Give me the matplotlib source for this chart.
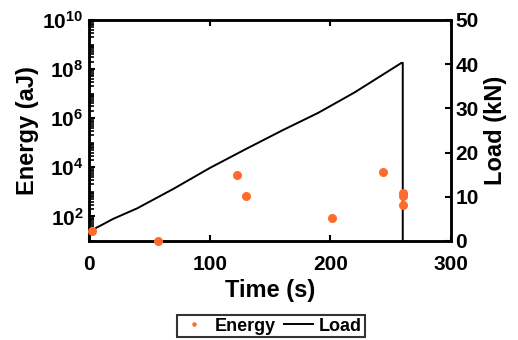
import numpy as np
import matplotlib.pyplot as plt
from matplotlib.ticker import LogLocator, FixedLocator, NullFormatter

plt.rcParams['font.family'] = ['Liberation Sans', 'DejaVu Sans']
plt.rcParams['font.weight'] = 'bold'
plt.rcParams['mathtext.fontset'] = 'custom'
plt.rcParams['mathtext.rm'] = 'Liberation Sans:bold'
plt.rcParams['mathtext.bf'] = 'Liberation Sans:bold'
plt.rcParams['mathtext.default'] = 'bf'

# energy events
energy_t = [2.5, 57, 123, 130, 201, 244, 260, 260, 260]
energy_val = [25, 10, 5000, 660, 90, 6300, 870, 660, 280]

# load curve
load_t = [0, 1, 3, 6, 9, 20, 40, 70, 100, 130, 160, 190, 220, 259, 260, 260]
load_val = [0, 1.2, 2.2, 3.0, 3.4, 5.0, 7.4, 11.8, 16.5, 20.8, 25.0, 29.0, 33.6, 40.3, 40.3, 0]

orange = '#ff6b2b'

fig = plt.figure(figsize=(5.18, 3.40), dpi=100)
ax1 = fig.add_axes([0.1718, 0.2912, 0.6989, 0.6500])
ax2 = ax1.twinx()

ax2.plot(load_t, load_val, color='black', lw=1.4, label='Load')
ax1.plot(energy_t, energy_val, 'o', color=orange, ms=6.5, mec='none',
         clip_on=False, label='Energy', zorder=5)

ax1.set_zorder(ax2.get_zorder() + 1)
ax1.patch.set_visible(False)

ax1.set_yscale('log')
ax1.set_xlim(0, 300)
ax1.set_ylim(10, 1e10)
ax2.set_ylim(0, 50)

ax1.yaxis.set_major_locator(FixedLocator([1e2, 1e4, 1e6, 1e8, 1e10]))
ax1.set_yticklabels([r'$10^{2}$', r'$10^{4}$', r'$10^{6}$', r'$10^{8}$', r'$10^{10}$'])
ax1.yaxis.set_minor_locator(LogLocator(base=10, subs=np.arange(1, 10), numticks=50))
ax1.yaxis.set_minor_formatter(NullFormatter())
ax1.set_xticks([0, 100, 200, 300])
ax2.set_yticks([0, 10, 20, 30, 40, 50])

ax1.tick_params(axis='y', which='major', direction='in', labelsize=15, width=1.5, length=4.5, pad=4)
ax1.tick_params(axis='x', which='major', direction='in', labelsize=15, width=1.5, length=4.5, pad=10)
ax1.tick_params(axis='y', which='minor', direction='in', width=1.2, length=3.5)
ax1.tick_params(axis='x', top=True)
ax2.tick_params(axis='y', direction='in', labelsize=15, width=1.5, length=4.5, pad=3)

for ax in (ax1, ax2):
    for s in ax.spines.values():
        s.set_linewidth(1.8)

ax1.set_xlabel('Time (s)', fontsize=17, fontweight='bold', labelpad=4)
ax1.set_ylabel('Energy (aJ)', fontsize=17, fontweight='bold', labelpad=2)
ax2.set_ylabel('Load (kN)', fontsize=17, fontweight='bold', labelpad=4)

h1, l1 = ax1.get_legend_handles_labels()
h2, l2 = ax2.get_legend_handles_labels()
leg = fig.legend(h1 + h2, l1 + l2, loc='lower center', bbox_to_anchor=(0.523, -0.008),
                 ncol=2, fontsize=13, frameon=True, fancybox=False, edgecolor='black',
                 handlelength=1.6, handletextpad=0.3, columnspacing=0.5,
                 borderpad=0.15, borderaxespad=0.3, markerscale=0.5)
leg.get_frame().set_linewidth(1.5)

fig.savefig('out.png', dpi=100)
